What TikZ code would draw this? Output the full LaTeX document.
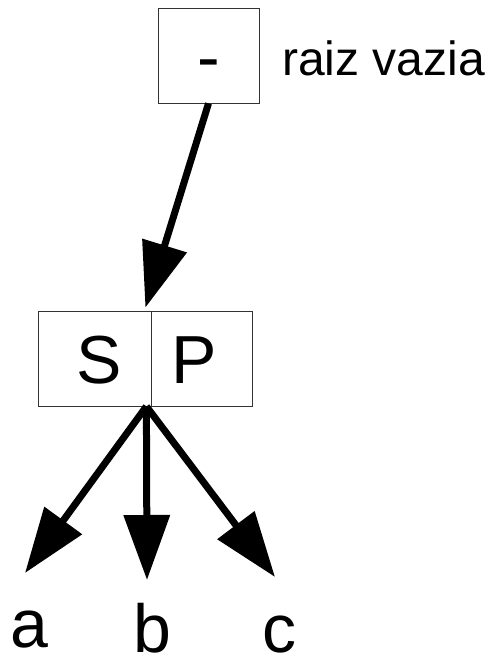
\documentclass[tikz,border=0pt]{standalone}
\usepackage{fontspec}
\setmainfont{Liberation Sans}
\usetikzlibrary{arrows.meta,positioning,calc}

\begin{document}
\begin{tikzpicture}[x=1pt, y=-1pt,
  cell/.style  = {rectangle, draw=black!80, line width=0.8pt,
                  minimum height=95pt, inner sep=0pt,
                  text height=49pt, text depth=0pt,
                  font=\fontsize{68}{80}\selectfont},
  leaf/.style  = {anchor=base, inner sep=0pt,
                  font=\fontsize{68}{80}\selectfont},
  note/.style  = {anchor=base west, inner sep=0pt,
                  font=\fontsize{48}{58}\selectfont},
  arr/.style   = {-{Triangle[length=65pt,width=45pt]}, line width=7pt}
]
\useasboundingbox (0,0) rectangle (491,656);

% , - Empty root , -
\node[cell, minimum width=101pt] (raiz) at (208.5,55.5) {-};
\node[note] (rotulo) at (282,75) {raiz vazia};

% , - Split node , -
\node[cell, minimum width=113pt] (S) at (94.5,358.5) {\hspace*{10pt}S};
\node[cell, minimum width=101pt, right=0pt of S] (P) {P\hspace*{17pt}};

% , - Leaves , -
\node[leaf] (a) at (29,647) {a};
\node[leaf] (b) at (152,652) {b};
\node[leaf] (c) at (279,652) {c};
\coordinate (tipa) at (25,573);
\coordinate (tipb) at (147,580);
\coordinate (tipc) at (275,577);

% , - Arrows , -
\draw[arr] (raiz.south) -- ($(S.north east)+(-6,-3)$);
\draw[arr] ($(S.south east)+(-5,0)$) -- (tipa);
\draw[arr] ($(S.south east)+(-5,0)$) -- (tipb);
\draw[arr] ($(S.south east)+(-5,0)$) -- (tipc);

\end{tikzpicture}
\end{document}
